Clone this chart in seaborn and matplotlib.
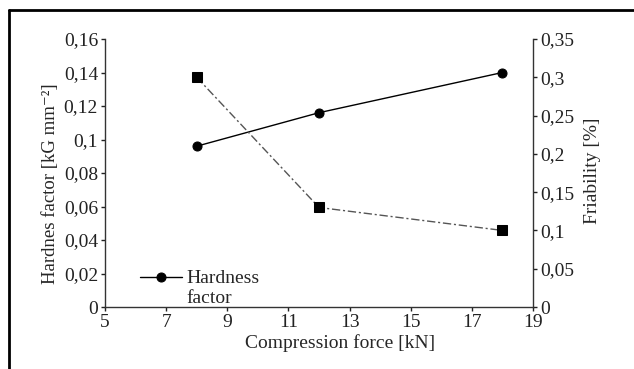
import matplotlib
matplotlib.use("Agg")
import matplotlib.pyplot as plt
import matplotlib.lines as mlines
from matplotlib.transforms import Affine2D
import seaborn as sns
import pandas as pd

# ---------------- data ----------------
force = [8, 12, 18]
hardness = [0.096, 0.116, 0.140]
friability = [0.30, 0.13, 0.10]

x_ticks = [5, 7, 9, 11, 13, 15, 17, 19]
y_left_ticks = [0, 0.02, 0.04, 0.06, 0.08, 0.10, 0.12, 0.14, 0.16]
y_left_labels = ["0", "0,02", "0,04", "0,06", "0,08", "0,1", "0,12", "0,14", "0,16"]
y_right_ticks = [0, 0.05, 0.10, 0.15, 0.20, 0.25, 0.30, 0.35]
y_right_labels = ["0", "0,05", "0,1", "0,15", "0,2", "0,25", "0,3", "0,35"]

df = pd.DataFrame({"force": force, "hardness": hardness, "friability": friability})

# ---------------- style ----------------
sns.set_style("ticks")
plt.rcParams["font.family"] = ["Liberation Serif", "DejaVu Serif"]
FS = 14

fig = plt.figure(figsize=(6.34, 3.69), dpi=100)
ax = fig.add_axes([0.1656, 0.168, 0.6751, 0.7263])
ax2 = ax.twinx()

sns.lineplot(data=df, x="force", y="hardness", ax=ax, color="black",
             marker="o", markersize=6.5, linewidth=1.0,
             markeredgecolor="black", label="Hardness\nfactor")
sns.lineplot(data=df, x="force", y="friability", ax=ax2, color="#555555",
             marker="s", markersize=6.5, linewidth=1.0,
             markerfacecolor="black", markeredgecolor="black",
             linestyle=(0, (6, 2, 1.5, 2)), legend=False)

ax.set_xlim(5, 19)
ax.set_ylim(0, 0.16)
ax2.set_ylim(0, 0.35)
ax.set_xticks(x_ticks)
ax.set_xticklabels([str(t) for t in x_ticks], fontsize=FS)
ax.set_yticks(y_left_ticks)
ax.set_yticklabels(y_left_labels, fontsize=FS)
ax2.set_yticks(y_right_ticks)
ax2.set_yticklabels(y_right_labels, fontsize=FS)

ax.set_xlabel("Compression force [kN]", fontsize=FS)
ax.xaxis.set_label_coords(0.549, -0.10)
ax.set_ylabel("Hardnes factor [kG mm\u207b\u00b2]", fontsize=13.5)
ax.yaxis.set_label_coords(-0.1075, 0.46)
ax2.set_ylabel("Friability [%]", fontsize=FS)
ax2.yaxis.set_label_coords(1.119, 0.51)

for a in (ax, ax2):
    a.spines["top"].set_visible(False)
    for s in a.spines.values():
        s.set_color("#333333")
        s.set_linewidth(1.0)
    a.tick_params(length=3, width=1.0, colors="#222222", pad=2)
ax.spines["right"].set_visible(False)
ax2.spines["left"].set_visible(False)
ax2.spines["bottom"].set_visible(False)

leg = ax.legend(loc="lower left", bbox_to_anchor=(0.081, 0.001), frameon=False,
                fontsize=FS, handlelength=2.2, handletextpad=0.2,
                labelspacing=0.35, borderaxespad=0, borderpad=0)
# handle next to the first line of the label
for ln in leg.findobj(mlines.Line2D):
    ln.set_transform(ln.get_transform() + Affine2D().translate(0, 11))

# outer frame (top and left border)
fig.add_artist(mlines.Line2D([9 / 634, 1], [1 - 9.5 / 369, 1 - 9.5 / 369],
                             transform=fig.transFigure, color="black", lw=2))
fig.add_artist(mlines.Line2D([9 / 634, 9 / 634], [0, 1 - 9.5 / 369],
                             transform=fig.transFigure, color="black", lw=2))

fig.savefig("out.png", dpi=100)
